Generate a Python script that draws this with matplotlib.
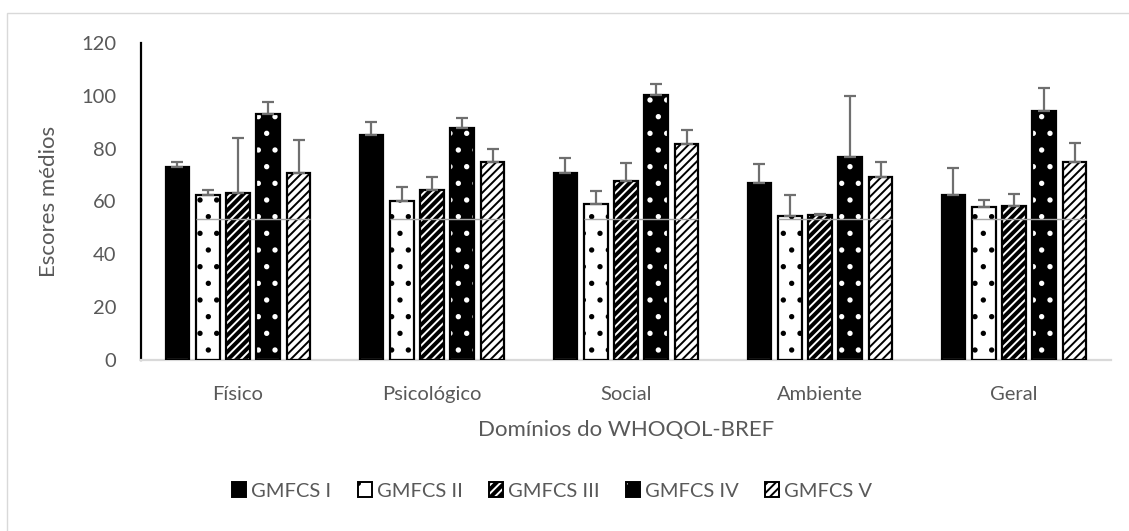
import matplotlib
matplotlib.use('Agg')
import matplotlib.pyplot as plt
from matplotlib.patches import Rectangle
import numpy as np

plt.rcParams['font.family'] = ['Lato', 'DejaVu Sans']
plt.rcParams['hatch.linewidth'] = 1.4

domains = ['Físico', 'Psicológico', 'Social', 'Ambiente', 'Geral']
groups = ['GMFCS I', 'GMFCS II', 'GMFCS III', 'GMFCS IV', 'GMFCS V']

# mean scores per GMFCS level (one list per level, in domain order)
gmfcs_1 = [73.0, 85.2, 70.6, 66.9, 62.4]
gmfcs_2 = [62.5, 60.1, 59.0, 54.4, 58.1]
gmfcs_3 = [63.4, 64.5, 67.6, 54.9, 58.2]
gmfcs_4 = [93.2, 87.7, 100.2, 76.8, 94.2]
gmfcs_5 = [70.7, 75.1, 81.6, 69.1, 75.1]

# standard deviations (upper error bar only)
sd_1 = [2.1, 4.8, 5.7, 7.3, 10.4]
sd_2 = [2.0, 5.3, 5.0, 8.2, 2.6]
sd_3 = [20.7, 4.6, 6.8, 0.4, 4.8]
sd_4 = [4.5, 3.9, 4.4, 23.2, 8.9]
sd_5 = [12.4, 4.8, 5.4, 6.0, 7.2]

# stray grey line that shows in the original export
stray_line = 53.3

means = [gmfcs_1, gmfcs_2, gmfcs_3, gmfcs_4, gmfcs_5]
sds = [sd_1, sd_2, sd_3, sd_4, sd_5]

# (face, hatch colour, hatch)
styles = [
    ('black', 'black', None),
    ('white', 'black', '.'),
    ('black', 'white', '////'),
    ('black', 'white', '.'),
    ('white', 'black', '////'),
]

TXT = '#595959'

fig = plt.figure(figsize=(11.29, 5.31), dpi=100)
ax = fig.add_axes([141 / 1129, 1 - 360 / 531, 970 / 1129, 317 / 531])

x = np.arange(len(domains))
slot = 0.156
width = 0.122
handles = []
for i, (vals, err, st) in enumerate(zip(means, sds, styles)):
    face, hcol, hatch = st
    pos = x + (i - 2) * slot
    ax.bar(pos, vals, width, color=face, edgecolor=hcol, hatch=hatch,
           linewidth=0, zorder=2)
    ax.bar(pos, vals, width, facecolor='none', edgecolor='black',
           linewidth=1.6, zorder=3)
    ax.errorbar(pos, vals, yerr=[np.zeros(len(err)), err], fmt='none',
                ecolor='#6f6f6f', elinewidth=1.6, capsize=4, capthick=1.6,
                zorder=4)
    fill = Rectangle((0, 0), 1, 1, facecolor=face, edgecolor=hcol,
                     hatch=hatch, linewidth=0)
    outline = Rectangle((0, 0), 1, 1, facecolor='none', edgecolor='black',
                        linewidth=1.4)
    handles.append((fill, outline))

# the stray horizontal artefact across bars II-V of each group
ax.hlines([stray_line] * len(x), x - 1 * slot - width / 2,
          x + 2 * slot + width / 2, colors='#a6a6a6', linewidth=1.0, zorder=5)

ax.set_xlim(-0.5, len(domains) - 0.5)
ax.set_ylim(0, 120)
ax.set_yticks(range(0, 121, 20))
ax.set_xticks(x)
ax.set_xticklabels(domains)
ax.tick_params(axis='both', length=0, labelsize=14.5, colors=TXT)
ax.tick_params(axis='y', pad=18)
ax.tick_params(axis='x', pad=19)

for s in ['top', 'right']:
    ax.spines[s].set_visible(False)
ax.spines['left'].set_color('black')
ax.spines['left'].set_linewidth(1.6)
ax.spines['bottom'].set_color('#d9d9d9')
ax.spines['bottom'].set_linewidth(1.6)

ax.set_xlabel('Domínios do WHOQOL-BREF', fontsize=16, color=TXT, labelpad=12)
ax.set_ylabel('Escores médios', fontsize=16, color=TXT, labelpad=16)

fig.legend(handles, groups, loc='center', bbox_to_anchor=(0.489, 1 - 491 / 531),
           ncol=5, frameon=False, fontsize=14.5, handlelength=0.7,
           handleheight=0.7, handletextpad=0.25, columnspacing=1.3,
           labelcolor=TXT)

# light chart-area border
fig.patches.append(Rectangle((7 / 1129, -0.05), 1.1, 1 - 13 / 531 + 0.05,
                             transform=fig.transFigure, fill=False,
                             edgecolor='#d9d9d9', linewidth=1.0))

fig.savefig('out.png', dpi=100)
